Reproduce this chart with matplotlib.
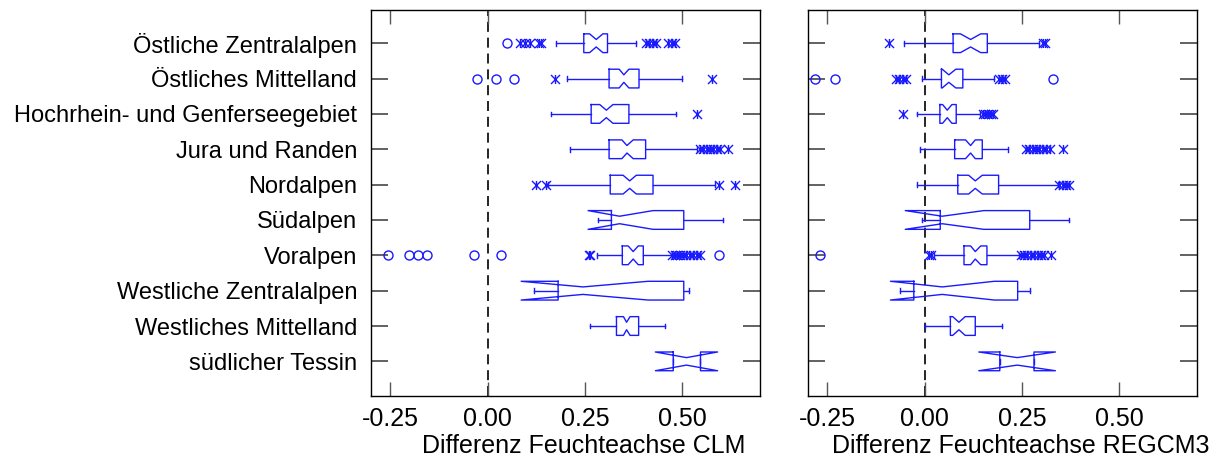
import matplotlib
matplotlib.use("Agg")
import matplotlib.pyplot as plt
from matplotlib.path import Path

plt.rcParams['font.family'] = ['Liberation Sans', 'DejaVu Sans']

regions = ["Östliche Zentralalpen", "Östliches Mittelland", "Hochrhein- und Genferseegebiet",
           "Jura und Randen", "Nordalpen", "Südalpen", "Voralpen",
           "Westliche Zentralalpen", "Westliches Mittelland", "südlicher Tessin"]

# CLM panel
clm_whislo = [0.176, 0.205, 0.162, 0.211, 0.155, 0.284, 0.282, 0.119, 0.262, 0.477]
clm_q1 = [0.247, 0.312, 0.266, 0.312, 0.315, 0.318, 0.346, 0.181, 0.331, 0.477]
clm_cilo = [0.262, 0.338, 0.288, 0.345, 0.348, 0.258, 0.361, 0.086, 0.349, 0.431]
clm_med = [0.279, 0.350, 0.305, 0.358, 0.365, 0.339, 0.374, 0.245, 0.357, 0.511]
clm_cihi = [0.296, 0.363, 0.322, 0.374, 0.382, 0.425, 0.387, 0.412, 0.366, 0.591]
clm_q3 = [0.308, 0.389, 0.363, 0.406, 0.425, 0.504, 0.400, 0.504, 0.388, 0.547]
clm_whishi = [0.381, 0.499, 0.484, 0.539, 0.584, 0.606, 0.473, 0.517, 0.457, 0.547]
clm_star = [[0.083, 0.097, 0.108, 0.131, 0.137, 0.406, 0.415, 0.424, 0.432, 0.464, 0.473, 0.481],
            [0.174, 0.576],
            [0.537],
            [0.546, 0.554, 0.563, 0.571, 0.580, 0.589, 0.597, 0.619],
            [0.125, 0.149, 0.595, 0.636],
            [],
            [0.260, 0.262, 0.475, 0.481, 0.487, 0.494, 0.503, 0.511, 0.520, 0.528, 0.537, 0.546],
            [], [], []]
clm_circle = [[0.049],
              [-0.028, 0.021, 0.067],
              [], [], [], [],
              [-0.256, -0.202, -0.179, -0.156, -0.034, 0.033, 0.595],
              [], [], []]

# REGCM3 panel
reg_whislo = [-0.053, -0.007, -0.021, -0.012, -0.019, -0.007, 0.023, -0.064, 0.002, 0.193]
reg_q1 = [0.073, 0.043, 0.039, 0.077, 0.085, 0.040, 0.101, -0.028, 0.066, 0.193]
reg_cilo = [0.092, 0.045, 0.046, 0.105, 0.113, -0.050, 0.118, -0.088, 0.072, 0.139]
reg_med = [0.118, 0.062, 0.058, 0.118, 0.130, 0.045, 0.130, 0.045, 0.088, 0.238]
reg_cihi = [0.144, 0.080, 0.070, 0.130, 0.148, 0.152, 0.144, 0.179, 0.104, 0.336]
reg_q3 = [0.161, 0.098, 0.081, 0.148, 0.190, 0.270, 0.160, 0.239, 0.130, 0.281]
reg_whishi = [0.294, 0.178, 0.141, 0.213, 0.342, 0.371, 0.242, 0.270, 0.199, 0.281]
reg_star = [[-0.093, 0.303, 0.309],
            [-0.074, -0.065, -0.057, -0.048, 0.190, 0.199, 0.206],
            [-0.056, 0.150, 0.156, 0.163, 0.170, 0.176],
            [0.261, 0.269, 0.278, 0.287, 0.295, 0.304, 0.312, 0.321, 0.356],
            [0.346, 0.355, 0.364, 0.372],
            [],
            [0.010, 0.017, 0.247, 0.255, 0.264, 0.272, 0.281, 0.290, 0.298, 0.307, 0.324],
            [], [], []]
reg_circle = [[], [-0.282, -0.231, 0.330], [], [], [], [],
              [-0.268], [], [], []]

xticks = [-0.25, 0.0, 0.25, 0.50]
xticklabels = ["-0.25", "0.00", "0.25", "0.50"]

BLUE = '#1a1aff'
BOX_W = 0.53
# "Ж"-like star: vertical stroke plus an X
STAR = Path([(0, -1), (0, 1), (-1, -1), (1, 1), (-1, 1), (1, -1)],
            [Path.MOVETO, Path.LINETO, Path.MOVETO, Path.LINETO, Path.MOVETO, Path.LINETO])

W, H = 1229, 466
fig = plt.figure(figsize=(W / 100, H / 100), dpi=100)
ax1 = fig.add_axes([371 / W, 70 / H, 389 / W, 386 / H])
ax2 = fig.add_axes([808 / W, 70 / H, 389 / W, 386 / H])


def draw_panel(ax, whislo, q1, cilo, med, cihi, q3, whishi, stars, circles, xlabel):
    pos = list(range(1, len(q1) + 1))
    stats = [dict(whislo=a, q1=b, cilo=c, med=d, cihi=e, q3=f, whishi=g, fliers=[])
             for a, b, c, d, e, f, g in zip(whislo, q1, cilo, med, cihi, q3, whishi)]
    line = dict(color=BLUE, linewidth=1.0)
    res = ax.bxp(stats, positions=pos, widths=BOX_W, capwidths=0.13,
                 orientation='horizontal', shownotches=True, showfliers=False,
                 boxprops=line, whiskerprops=line, capprops=line,
                 medianprops=dict(linewidth=0))
    # deepen the notches a little (SAS style)
    for p, box in zip(pos, res['boxes']):
        yd = list(box.get_ydata())
        yd[3] = p + BOX_W * 0.2
        yd[8] = p - BOX_W * 0.2
        box.set_ydata(yd)
    for p, s, c in zip(pos, stars, circles):
        if s:
            ax.plot(s, [p] * len(s), ls='none', marker=STAR, ms=6.5, mew=1.0,
                    color=BLUE, zorder=3)
        if c:
            ax.plot(c, [p] * len(c), ls='none', marker='o', ms=6.5, mew=1.0,
                    mfc='none', mec=BLUE, zorder=3)
    ax.axvline(0, color='black', lw=1.2, dashes=(6, 3.5), zorder=1)
    ax.set_xlim(-0.30, 0.70)
    ax.set_ylim(10.98, 0.06)
    ax.set_xticks(xticks)
    ax.set_xticklabels(xticklabels)
    ax.set_yticks(pos)
    ax.tick_params(axis='x', direction='in', length=10, width=1, color='#555555',
                   top=True, labelsize=18, pad=8)
    ax.tick_params(axis='y', direction='in', length=12, width=1.3, color='#555555',
                   right=True, labelsize=17, pad=10)
    ax.set_xlabel(xlabel, fontsize=18, labelpad=2)
    ax.xaxis.label.set_x(0.546)
    for sp in ax.spines.values():
        sp.set_linewidth(1.0)


draw_panel(ax1, clm_whislo, clm_q1, clm_cilo, clm_med, clm_cihi, clm_q3, clm_whishi,
           clm_star, clm_circle, "Differenz Feuchteachse CLM")
ax1.set_yticklabels(regions)

draw_panel(ax2, reg_whislo, reg_q1, reg_cilo, reg_med, reg_cihi, reg_q3, reg_whishi,
           reg_star, reg_circle, "Differenz Feuchteachse REGCM3")
ax2.set_yticklabels([])

fig.savefig("out.png", dpi=100)
